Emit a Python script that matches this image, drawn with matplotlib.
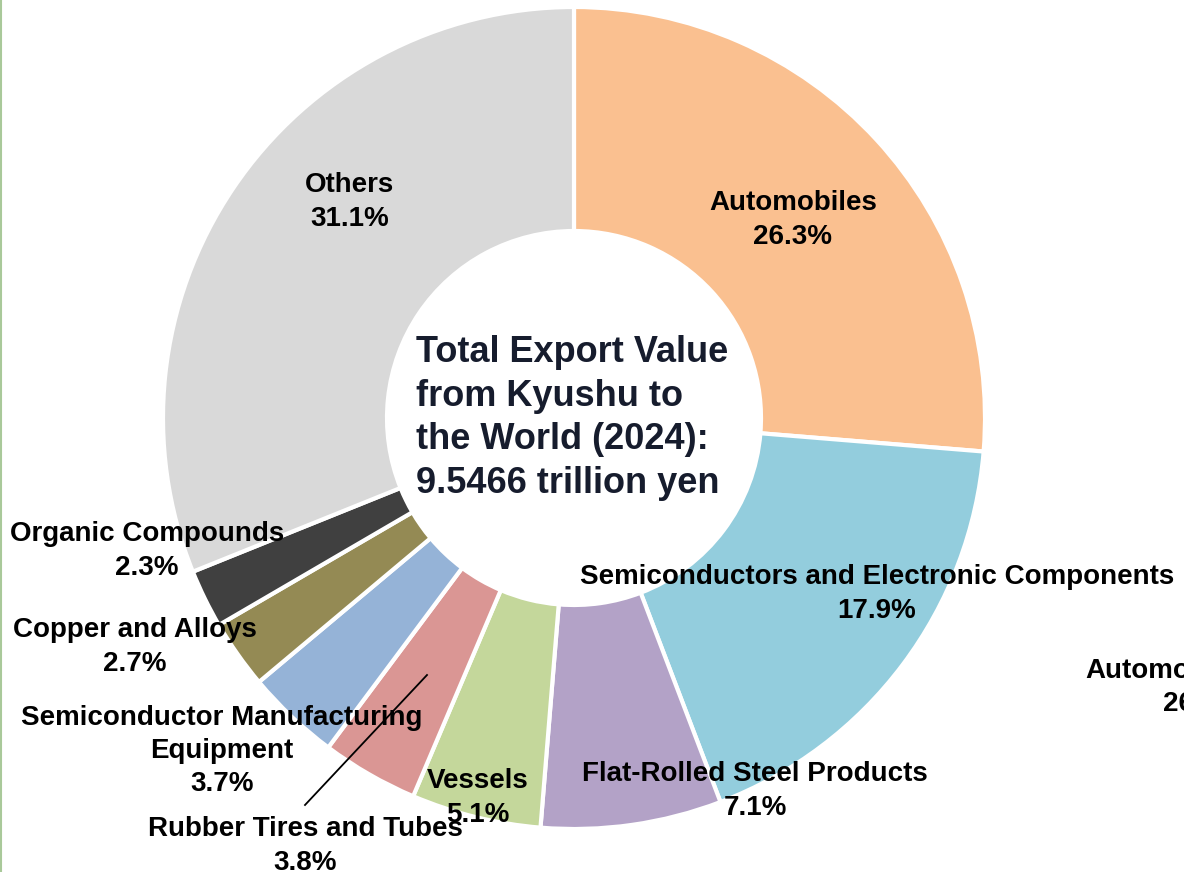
import matplotlib.pyplot as plt
from matplotlib.lines import Line2D

plt.rcParams['font.family'] = ['Liberation Sans', 'DejaVu Sans']

categories = ['Automobiles', 'Semiconductors and Electronic Components',
              'Flat-Rolled Steel Products', 'Vessels', 'Rubber Tires and Tubes',
              'Semiconductor Manufacturing\nEquipment', 'Copper and Alloys',
              'Organic Compounds', 'Others']
shares = [26.3, 17.9, 7.1, 5.1, 3.8, 3.7, 2.7, 2.3, 31.1]
colors = ['#FAC090', '#93CDDD', '#B3A2C7', '#C4D79B', '#DA9694',
          '#95B3D7', '#948A54', '#404040', '#D9D9D9']

W, H = 1184, 872
fig = plt.figure(figsize=(W / 100, H / 100), dpi=100)
ax = fig.add_axes([0, 0, 1, 1])

cx, cy, r = 574, H - 418, 411
ax.pie(shares, colors=colors, startangle=90, counterclock=False,
       center=(cx, cy), radius=r,
       wedgeprops=dict(width=224, edgecolor='white', linewidth=3))
ax.set_xlim(0, W)
ax.set_ylim(0, H)
ax.set_aspect('equal')
ax.axis('off')

# label positions in image pixels (x, y of label centre)
label_pos = [(793, 220), (877, 594), (755, 791), (478, 798), (305, 846),
             (222, 751), (135, 647), (147, 551), (350, 202)]
for name, v, (x, y) in zip(categories, shares, label_pos):
    ax.text(x, H - y, '%s\n%.1f%%' % (name, v), ha='center', va='center',
            fontsize=20, fontweight='bold', color='black', linespacing=1.37)

# leader line for Rubber Tires and Tubes
ax.plot([305, 427], [H - 805, H - 675], color='black', lw=1.3)

# centre text
ax.text(416, H - 418, 'Total Export Value\nfrom Kyushu to\nthe World (2024):\n9.5466 trillion yen',
        ha='left', va='center', fontsize=26, fontweight='bold', color='#161C2D',
        linespacing=1.32)

# neighbouring chart label cut off at right edge
ax.text(1085, H - 671, 'Automobiles', ha='left', va='center', fontsize=20,
        fontweight='bold', color='black', clip_on=False)
ax.text(1163, H - 704, '26.3%', ha='left', va='center', fontsize=20,
        fontweight='bold', color='black', clip_on=False)

fig.add_artist(Line2D([0.001, 0.001], [0, 1], color='#A9C99A', lw=1.5))

fig.savefig('out.png', dpi=100)
